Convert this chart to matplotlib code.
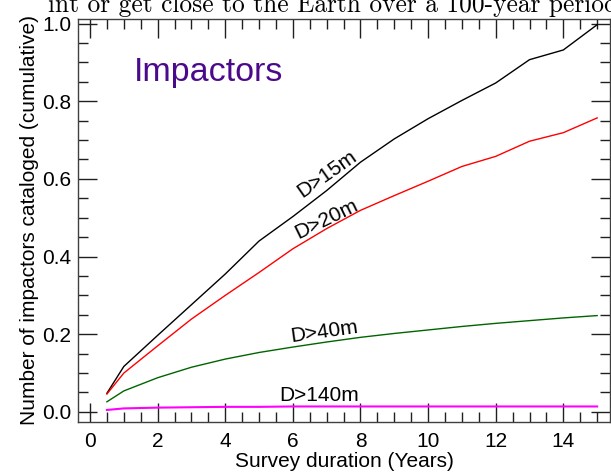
import matplotlib
matplotlib.use("Agg")
import matplotlib.pyplot as plt
from matplotlib.ticker import MultipleLocator

plt.rcParams["font.family"] = ["Liberation Sans", "DejaVu Sans"]

# survey duration (years)
years = [0.5, 1, 2, 3, 4, 5, 6, 7, 8, 9, 10, 11, 12, 13, 14, 15]

# cumulative fraction of impactors catalogued
d15 = [0.048, 0.117, 0.197, 0.276, 0.355, 0.440, 0.503, 0.570, 0.643, 0.703,
       0.755, 0.802, 0.847, 0.907, 0.932, 0.997]
d20 = [0.046, 0.100, 0.170, 0.239, 0.300, 0.359, 0.420, 0.472, 0.519, 0.557,
       0.594, 0.632, 0.658, 0.697, 0.719, 0.757]
d40 = [0.026, 0.054, 0.088, 0.115, 0.136, 0.153, 0.167, 0.180, 0.192, 0.202,
       0.211, 0.220, 0.228, 0.235, 0.242, 0.248]
d140 = [0.005, 0.009, 0.011, 0.012, 0.013, 0.013, 0.014, 0.014, 0.014, 0.014,
        0.014, 0.014, 0.014, 0.014, 0.014, 0.014]

series = [
    (d15, "black", 1.0, "D>15m", 7.0, 0.613, 35),
    (d20, "red", 1.0, "D>20m", 7.0, 0.497, 26),
    (d40, "#006400", 1.0, "D>40m", 6.94, 0.206, 8),
    (d140, "#ff00ff", 1.5, "D>140m", 6.78, 0.041, 0),
]

fig = plt.figure(figsize=(6.11, 4.74), dpi=100)
ax = fig.add_axes([78 / 611, 52 / 474, 532 / 611, 403.5 / 474])

for vals, col, lw, label, tx, ty, rot in series:
    ax.plot(years, vals, color=col, lw=lw)
    ax.text(tx, ty, label, rotation=rot, ha="center", va="center",
            fontsize=15, rotation_mode="anchor")

ax.text(0.105, 0.845, "Impactors", transform=ax.transAxes, fontsize=24.5,
        color="#4b0a8c", ha="left", va="baseline")

ax.set_xlim(-0.355, 15.38)
ax.set_ylim(-0.026, 1.013)

ax.xaxis.set_major_locator(MultipleLocator(2))
ax.xaxis.set_minor_locator(MultipleLocator(0.5))
ax.yaxis.set_major_locator(MultipleLocator(0.2))
ax.yaxis.set_minor_locator(MultipleLocator(0.05))
ax.yaxis.set_major_formatter(lambda v, p: f"{v:.1f}")

ax.tick_params(which="both", direction="in", top=True, right=True,
               width=1.0, color="#202020", labelsize=15)
ax.tick_params(which="major", length=14)
ax.tick_params(which="minor", length=7)
ax.tick_params(axis="x", pad=7)
ax.tick_params(axis="y", pad=5)
for s in ax.spines.values():
    s.set_color("#404040")
    s.set_linewidth(1.0)

ax.set_xlabel("Survey duration (Years)", fontsize=15, labelpad=1)
ax.set_ylabel("Number of impactors cataloged (cumulative)", fontsize=15,
              labelpad=2)

# caption text of the page above, cut off at the top edge
fig.text(48 / 611, 1 - 12 / 474,
         "int or get close to the Earth over a 100-year period.",
         fontsize=18.3, family=["cmr10", "Liberation Serif", "DejaVu Serif"],
         va="baseline", ha="left")

fig.savefig("out.png", dpi=100)
